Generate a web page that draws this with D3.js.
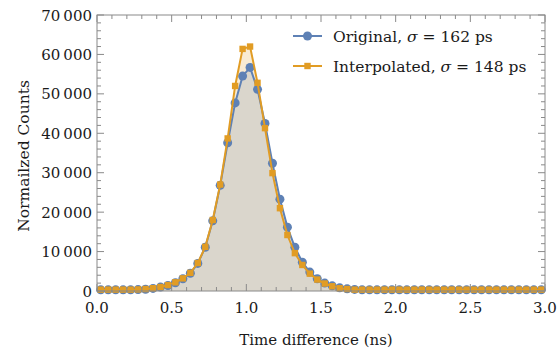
<!DOCTYPE html>
<html>
<head>
<meta charset="utf-8">
<script src="https://cdn.jsdelivr.net/npm/d3@7"></script>
<style>
  body { margin: 0; background: #fff; }
  text { font-family: "DejaVu Serif", serif; fill: #1a1a1a; }
</style>
</head>
<body>
<svg id="chart" width="558" height="351"></svg>
<script>
// bin centres (ns)
var times = d3.range(60).map(function(i) { return +(0.025 + 0.05 * i).toFixed(3); });

var original = [300, 300, 300, 300, 300, 350, 450, 650, 1000, 1400,
  2100, 3100, 4500, 7000, 11100, 17800, 26800, 37600, 47700, 54500,
  56700, 51150, 42500, 32400, 23300, 16200, 11100, 7300, 4800, 3100,
  2000, 1300, 800, 550, 400, 300, 300, 300, 300, 300,
  300, 300, 300, 300, 300, 300, 300, 300, 300, 300,
  300, 300, 300, 300, 300, 300, 300, 300, 300, 300];

var interpolated = [350, 350, 350, 350, 350, 400, 500, 700, 1000, 1500,
  2200, 3200, 4600, 7100, 11200, 18000, 27000, 38700, 52000, 61400,
  62000, 52800, 41300, 29900, 21000, 14200, 9600, 6600, 4400, 2900,
  1900, 1200, 700, 500, 350, 350, 350, 350, 350, 350,
  350, 350, 350, 350, 350, 350, 350, 350, 350, 350,
  350, 350, 350, 350, 350, 350, 350, 350, 350, 350];

var xTicks = [0, 0.5, 1, 1.5, 2, 2.5, 3];
var yTicks = [0, 10000, 20000, 30000, 40000, 50000, 60000, 70000];
var seriesNames = ["Original", "Interpolated"];
var sigmas = [162, 148];

var svg = d3.select("#chart");
var pLeft = 97, pRight = 545, pTop = 15, pBottom = 291;

var x = d3.scaleLinear().domain([0, 3]).range([pLeft, pRight]);
var y = d3.scaleLinear().domain([0, 70000]).range([pBottom, pTop]);

var blue = "#5e81b5", orange = "#e19c24";

var orig = times.map(function(t, i) { return {t: t, v: original[i]}; });
var interp = times.map(function(t, i) { return {t: t, v: interpolated[i]}; });

var area = d3.area()
    .x(function(d) { return x(d.t); })
    .y0(y(0))
    .y1(function(d) { return y(d.v); });
var line = d3.line()
    .x(function(d) { return x(d.t); })
    .y(function(d) { return y(d.v); });

// fills
svg.append("path").datum(interp).attr("d", area)
    .attr("fill", orange).attr("fill-opacity", 0.2);
svg.append("path").datum(orig).attr("d", area)
    .attr("fill", blue).attr("fill-opacity", 0.2);

// original series
svg.append("path").datum(orig).attr("d", line)
    .attr("fill", "none").attr("stroke", blue).attr("stroke-width", 2);
svg.selectAll(".dot").data(orig).enter().append("circle")
    .attr("class", "dot")
    .attr("cx", function(d) { return x(d.t); })
    .attr("cy", function(d) { return y(d.v); })
    .attr("r", 4.5)
    .attr("fill", blue);

// interpolated series
svg.append("path").datum(interp).attr("d", line)
    .attr("fill", "none").attr("stroke", orange).attr("stroke-width", 2);
svg.selectAll(".sq").data(interp).enter().append("rect")
    .attr("class", "sq")
    .attr("x", function(d) { return x(d.t) - 3.2; })
    .attr("y", function(d) { return y(d.v) - 3.2; })
    .attr("width", 6.4).attr("height", 6.4)
    .attr("fill", orange);

// frame + ticks
var frameCol = "#8a8a8a";
var minorX = d3.range(0, 3.0001, 0.1).map(function(v) { return +v.toFixed(2); });
var minorY = d3.range(0, 70001, 2000);

svg.append("rect")
    .attr("x", pLeft).attr("y", pTop)
    .attr("width", pRight - pLeft).attr("height", pBottom - pTop)
    .attr("fill", "none").attr("stroke", frameCol).attr("stroke-width", 1);

var tk = svg.append("g").attr("stroke", frameCol).attr("stroke-width", 1);
minorX.forEach(function(v) {
  var major = xTicks.some(function(m) { return Math.abs(m - v) < 1e-6; });
  var len = major ? 7 : 4;
  tk.append("line").attr("x1", x(v)).attr("x2", x(v)).attr("y1", pBottom).attr("y2", pBottom - len);
  tk.append("line").attr("x1", x(v)).attr("x2", x(v)).attr("y1", pTop).attr("y2", pTop + len);
});
minorY.forEach(function(v) {
  var major = v % 10000 === 0;
  var len = major ? 7 : 4;
  tk.append("line").attr("x1", pLeft).attr("x2", pLeft + len).attr("y1", y(v)).attr("y2", y(v));
  tk.append("line").attr("x1", pRight).attr("x2", pRight - len).attr("y1", y(v)).attr("y2", y(v));
});

// tick labels
svg.selectAll(".xl").data(xTicks).enter().append("text")
    .attr("x", function(d) { return x(d); })
    .attr("y", pBottom + 22)
    .attr("text-anchor", "middle")
    .style("font-size", "15px")
    .text(function(d) { return d3.format(".1f")(d); });

svg.selectAll(".yl").data(yTicks).enter().append("text")
    .attr("x", pLeft - 5)
    .attr("y", function(d) { return y(d) + 5.5; })
    .attr("text-anchor", "end")
    .style("font-size", "15px")
    .text(function(d) { return d3.format(",")(d).replace(",", "\u2009"); });

// axis titles
svg.append("text")
    .attr("x", (pLeft + pRight) / 2 - 5).attr("y", 345)
    .attr("text-anchor", "middle")
    .style("font-size", "15px")
    .text("Time difference (ns)");

svg.append("text")
    .attr("transform", "translate(29," + ((pTop + pBottom) / 2 + 3) + ") rotate(-90)")
    .attr("text-anchor", "middle")
    .style("font-size", "15.5px")
    .text("Normailzed Counts");

// legend
var legend = svg.append("g");
[0, 1].forEach(function(i) {
  var ly = 36 + i * 30;
  var col = i === 0 ? blue : orange;
  legend.append("line").attr("x1", 293).attr("x2", 322).attr("y1", ly).attr("y2", ly)
      .attr("stroke", col).attr("stroke-width", 2);
  if (i === 0) {
    legend.append("circle").attr("cx", 307.5).attr("cy", ly).attr("r", 4.5).attr("fill", col);
  } else {
    legend.append("rect").attr("x", 304.3).attr("y", ly - 3.2).attr("width", 6.4).attr("height", 6.4).attr("fill", col);
  }
  var t = legend.append("text").attr("x", 333).attr("y", ly + 5.5).style("font-size", "15.5px");
  t.append("tspan").text(seriesNames[i] + ", ");
  t.append("tspan").style("font-style", "italic").text("\u03c3");
  t.append("tspan").text(" = " + sigmas[i] + " ps");
});
</script>
</body>
</html>
